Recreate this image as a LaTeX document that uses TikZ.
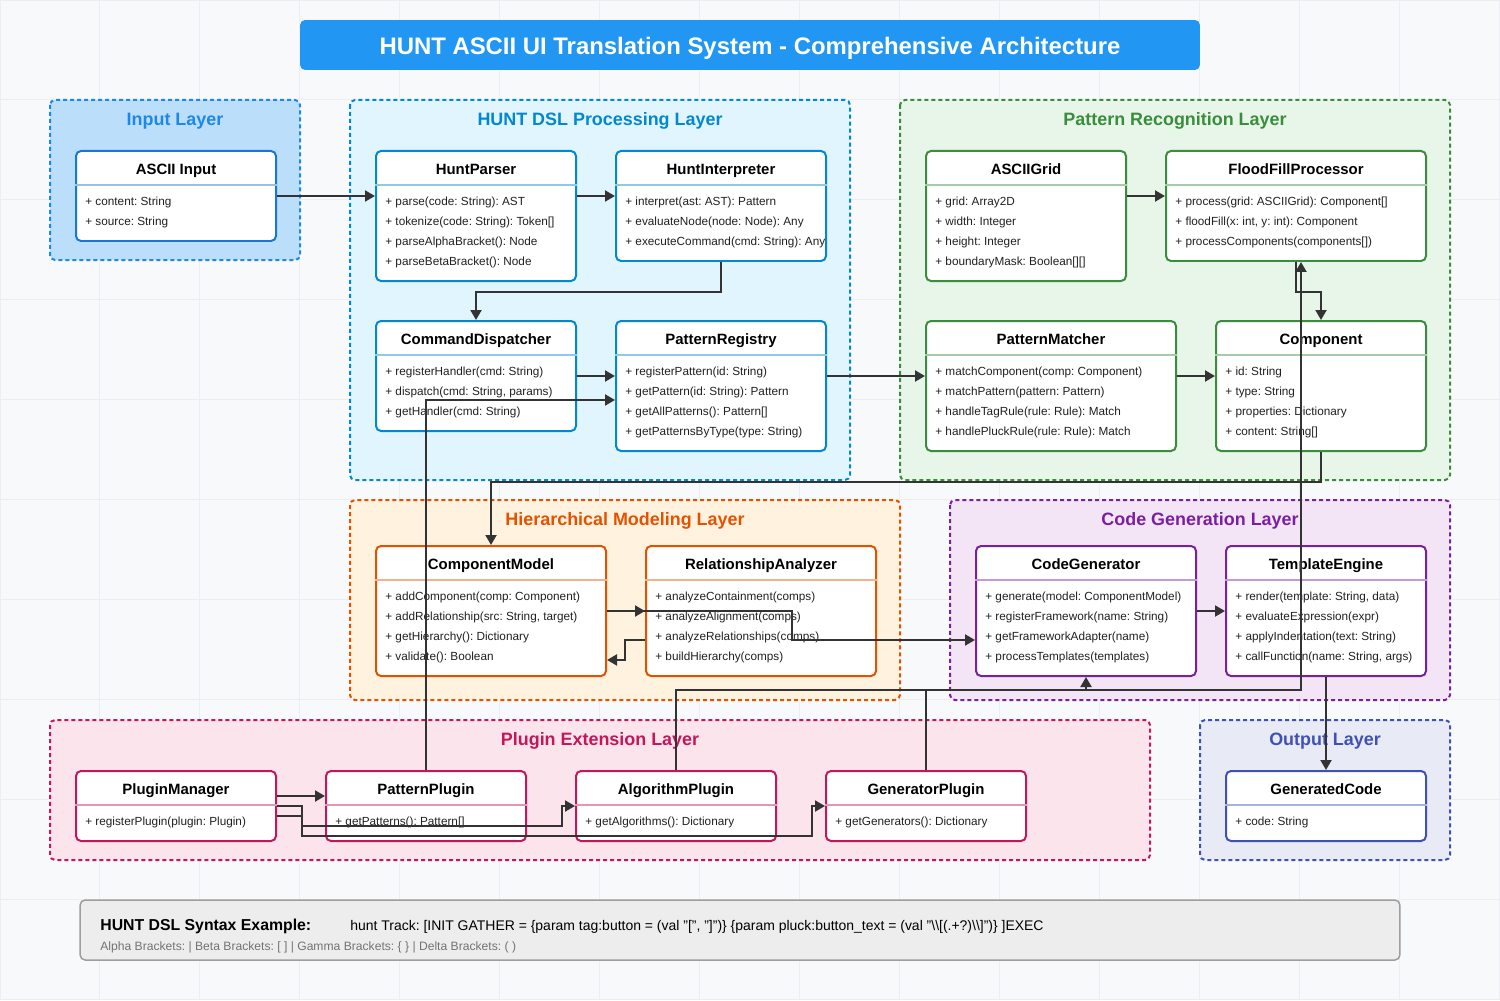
\documentclass[tikz,border=0pt]{standalone}
\usepackage{fontspec}
\setmainfont{Liberation Sans}
\usetikzlibrary{
	arrows.meta,
	backgrounds
}

% colores
\definecolor{cFondo}{HTML}{F8F9FA}
\definecolor{cRejilla}{HTML}{ECEEF1}
\definecolor{cLinea}{HTML}{333333}
\definecolor{cTexto}{HTML}{212121}
\definecolor{cTitulo}{HTML}{2196F3}
\definecolor{cEntrada}{HTML}{1E88E5}
\definecolor{cEntradaCaja}{HTML}{1976D2}
\definecolor{cEntradaFondo}{HTML}{BBDEFB}
\definecolor{cDsl}{HTML}{0288D1}
\definecolor{cDslFondo}{HTML}{E1F5FE}
\definecolor{cPatron}{HTML}{388E3C}
\definecolor{cPatronFondo}{HTML}{E8F5E9}
\definecolor{cJerarquia}{HTML}{E65100}
\definecolor{cJerarquiaFondo}{HTML}{FFF3E0}
\definecolor{cCodigo}{HTML}{7B1FA2}
\definecolor{cCodigoFondo}{HTML}{F3E5F5}
\definecolor{cPlugin}{HTML}{C2185B}
\definecolor{cPluginFondo}{HTML}{FCE4EC}
\definecolor{cSalida}{HTML}{3F51B5}
\definecolor{cSalidaFondo}{HTML}{E8EAF6}

% capa: nombre, x1, y1, x2, y2, color, relleno, título
\newcommand{\capa}[8]{%
	\draw[capa, draw = #6, fill = #7] (#2,#3) rectangle (#4,#5);
	\node[titcapa, text = #6] (#1) at ({(#2+#4)/2},#3+25.5) {#8};
}

% clase: nombre, x, y, ancho, alto, color, título, atributos
\newcommand{\clase}[8]{%
	\node[clase, draw = #6,
		minimum width = #4*0.02cm, minimum height = #5*0.02cm] (#1) at (#2,#3) {};
	\node[titclase] (#1-t) at ([yshift = -0.49cm]#1.north) {#7};
	\draw[#6!45, line width = 0.03cm]
		([yshift = -0.7cm]#1.north west) -- ([yshift = -0.7cm]#1.north east);
	\foreach \attr [count = \i] in {#8}
		\node[atributo] (#1-\i)
			at ([xshift = 0.2cm, yshift = {-0.72cm - \i*0.4cm}]#1.north west) {\attr};
}

\tikzset{
	capa/.style = {line width = 0.04cm, dash pattern = on 0.08cm off 0.06cm,
		rounded corners = 0.1cm},
	titcapa/.style = {anchor = base, inner sep = 0,
		font = \bfseries\fontsize{10.2}{12}\selectfont},
	clase/.style = {rectangle, anchor = north west, fill = white, inner sep = 0,
		line width = 0.04cm, rounded corners = 0.1cm},
	titclase/.style = {anchor = base, inner sep = 0, text = black,
		font = \bfseries\fontsize{8.5}{10}\selectfont},
	atributo/.style = {anchor = base west, inner sep = 0, text = cTexto,
		font = \fontsize{6.7}{8}\selectfont},
	flecha/.style = {draw = cLinea, line width = 0.04cm,
		-{Triangle[length = 0.2cm, width = 0.22cm]}}
}

\begin{document}
\frenchspacing
\begin{tikzpicture}[x = 0.02cm, y = -0.02cm]

	% fondo y rejilla
	\fill[cFondo] (0,0) rectangle (1500,1000);
	\useasboundingbox (0,0) rectangle (1500,1000);
	\draw[cRejilla, line width = 0.02cm, step = 2cm] (0,0) grid (1500,1000);

	% título
	\node[fill = cTitulo, rounded corners = 0.1cm, minimum width = 18cm,
		minimum height = 1cm, text = white] (titulo) at (750,45) {};
	\node[anchor = base, inner sep = 0, text = white,
		font = \bfseries\fontsize{13.6}{16}\selectfont] (titulo-t) at (750,55)
		{HUNT ASCII UI Translation System - Comprehensive Architecture};

	% capas
	\capa{entrada}{50}{100}{300}{260}{cEntrada}{cEntradaFondo}{Input Layer}
	\capa{dsl}{350}{100}{850}{480}{cDsl}{cDslFondo}{HUNT DSL Processing Layer}
	\capa{patron}{900}{100}{1450}{480}{cPatron}{cPatronFondo}{Pattern Recognition Layer}
	\capa{jerarquia}{350}{500}{900}{700}{cJerarquia}{cJerarquiaFondo}{Hierarchical Modeling Layer}
	\capa{codigo}{950}{500}{1450}{700}{cCodigo}{cCodigoFondo}{Code Generation Layer}
	\capa{plugins}{50}{720}{1150}{860}{cPlugin}{cPluginFondo}{Plugin Extension Layer}
	\capa{salida}{1200}{720}{1450}{860}{cSalida}{cSalidaFondo}{Output Layer}

	% clases de entrada y DSL
	\clase{ascii}{75}{150}{200}{90}{cEntradaCaja}{ASCII Input}
		{{+ content: String}, {+ source: String}}
	\clase{parser}{375}{150}{200}{130}{cDsl}{HuntParser}
		{{+ parse(code: String): AST}, {+ tokenize(code: String): Token[]},
		 {+ parseAlphaBracket(): Node}, {+ parseBetaBracket(): Node}}
	\clase{interp}{615}{150}{210}{110}{cDsl}{HuntInterpreter}
		{{+ interpret(ast: AST): Pattern}, {+ evaluateNode(node: Node): Any},
		 {+ executeCommand(cmd: String): Any}}
	\clase{dispatch}{375}{320}{200}{110}{cDsl}{CommandDispatcher}
		{{+ registerHandler(cmd: String)}, {+ dispatch(cmd: String, params)},
		 {+ getHandler(cmd: String)}}
	\clase{registry}{615}{320}{210}{130}{cDsl}{PatternRegistry}
		{{+ registerPattern(id: String)}, {+ getPattern(id: String): Pattern},
		 {+ getAllPatterns(): Pattern[]}, {+ getPatternsByType(type: String)}}

	% clases de reconocimiento
	\clase{grid}{925}{150}{200}{130}{cPatron}{ASCIIGrid}
		{{+ grid: Array2D}, {+ width: Integer}, {+ height: Integer},
		 {+ boundaryMask: Boolean[][]}}
	\clase{flood}{1165}{150}{260}{110}{cPatron}{FloodFillProcessor}
		{{+ process(grid: ASCIIGrid): Component[]},
		 {+ floodFill(x: int, y: int): Component},
		 {+ processComponents(components[])}}
	\clase{matcher}{925}{320}{250}{130}{cPatron}{PatternMatcher}
		{{+ matchComponent(comp: Component)}, {+ matchPattern(pattern: Pattern)},
		 {+ handleTagRule(rule: Rule): Match}, {+ handlePluckRule(rule: Rule): Match}}
	\clase{component}{1215}{320}{210}{130}{cPatron}{Component}
		{{+ id: String}, {+ type: String}, {+ properties: Dictionary},
		 {+ content: String[]}}

	% clases de modelado y generación
	\clase{model}{375}{545}{230}{130}{cJerarquia}{ComponentModel}
		{{+ addComponent(comp: Component)}, {+ addRelationship(src: String, target)},
		 {+ getHierarchy(): Dictionary}, {+ validate(): Boolean}}
	\clase{analyzer}{645}{545}{230}{130}{cJerarquia}{RelationshipAnalyzer}
		{{+ analyzeContainment(comps)}, {+ analyzeAlignment(comps)},
		 {+ analyzeRelationships(comps)}, {+ buildHierarchy(comps)}}
	\clase{codegen}{975}{545}{220}{130}{cCodigo}{CodeGenerator}
		{{+ generate(model: ComponentModel)}, {+ registerFramework(name: String)},
		 {+ getFrameworkAdapter(name)}, {+ processTemplates(templates)}}
	\clase{template}{1225}{545}{200}{130}{cCodigo}{TemplateEngine}
		{{+ render(template: String, data)}, {+ evaluateExpression(expr)},
		 {+ applyIndentation(text: String)}, {+ callFunction(name: String, args)}}

	% plugins y salida
	\clase{manager}{75}{770}{200}{70}{cPlugin}{PluginManager}
		{{+ registerPlugin(plugin: Plugin)}}
	\clase{pplugin}{325}{770}{200}{70}{cPlugin}{PatternPlugin}
		{{+ getPatterns(): Pattern[]}}
	\clase{aplugin}{575}{770}{200}{70}{cPlugin}{AlgorithmPlugin}
		{{+ getAlgorithms(): Dictionary}}
	\clase{gplugin}{825}{770}{200}{70}{cPlugin}{GeneratorPlugin}
		{{+ getGenerators(): Dictionary}}
	\clase{output}{1225}{770}{200}{70}{cSalida}{GeneratedCode}
		{{+ code: String}}

	% conectores
	\draw[flecha] (ascii.east) -- (ascii.east -| parser.west);
	\draw[flecha] (parser.east |- ascii.east) -- (interp.west |- ascii.east);
	\draw[flecha] (interp.south) -- ++(0,30) -| (dispatch.north);
	\draw[flecha] (dispatch.east) -- (dispatch.east -| registry.west);
	\draw[flecha] (registry.east |- dispatch.east) -- (matcher.west |- dispatch.east);
	\draw[flecha] (grid.east |- ascii.east) -- (flood.west |- ascii.east);
	\draw[flecha] (matcher.east |- dispatch.east) -- (component.west |- dispatch.east);
	\draw[flecha] (flood.south) -- ++(0,30) -| (component.north);
	\draw[flecha] (component.south) -- ++(0,30) -| (model.north);
	\draw[flecha] (pplugin.north) |- ([yshift = -1.6cm]registry.north west);
	\draw[flecha] (model.east) -- (model.east -| analyzer.west);
	\draw[flecha] (model.east) -- ++(185,0) |- ([yshift = -1.9cm]codegen.north west);
	\draw[flecha] ([yshift = -1.9cm]analyzer.north west) -- ++(-20,0)
		|- ([yshift = -2.3cm]model.north east);
	\draw[flecha] (codegen.east) -- (codegen.east -| template.west);
	\draw[flecha] (template.south) -- (output.north);
	\draw[flecha] (aplugin.north) -- ++(0,-80) -| ([xshift = 0.1cm]flood.south);
	\draw[flecha] (gplugin.north) -- ++(0,-80) -| (codegen.south);
	\draw[flecha] ([yshift = 0.2cm]manager.east) -- ([yshift = 0.2cm]manager.east -| pplugin.west);
	\draw[flecha] (manager.east) -- ++(25,0) |- ++(260,20) |- (aplugin.west);
	\draw[flecha] ([yshift = -0.2cm]manager.east) -- ++(25,0) |- ++(510,20) |- (gplugin.west);

	% ejemplo de sintaxis
	\node[fill = black!7, draw = black!38, line width = 0.03cm, rounded corners = 0.1cm,
		minimum width = 26.4cm, minimum height = 1.2cm] (ejemplo) at (740,930) {};
	\node[anchor = base west, inner sep = 0, font = \bfseries\fontsize{9}{10}\selectfont]
		(ejemplo-t) at (100,930) {HUNT DSL Syntax Example:};
	\node[anchor = base west, inner sep = 0, font = \fontsize{7.95}{9}\selectfont]
		(ejemplo-c) at (350,930)
		{hunt Track: [INIT GATHER = \{param tag:button = (val "[", "]")\} \{param pluck:button\_text = (val "\textbackslash\textbackslash[(.+?)\textbackslash\textbackslash]")\} ]EXEC};
	\node[anchor = base west, inner sep = 0, text = black!55, font = \fontsize{6.9}{8}\selectfont]
		(ejemplo-n) at (100,950)
		{Alpha Brackets: | Beta Brackets: [ ] | Gamma Brackets: \{ \} | Delta Brackets: ( )};

\end{tikzpicture}
\end{document}
